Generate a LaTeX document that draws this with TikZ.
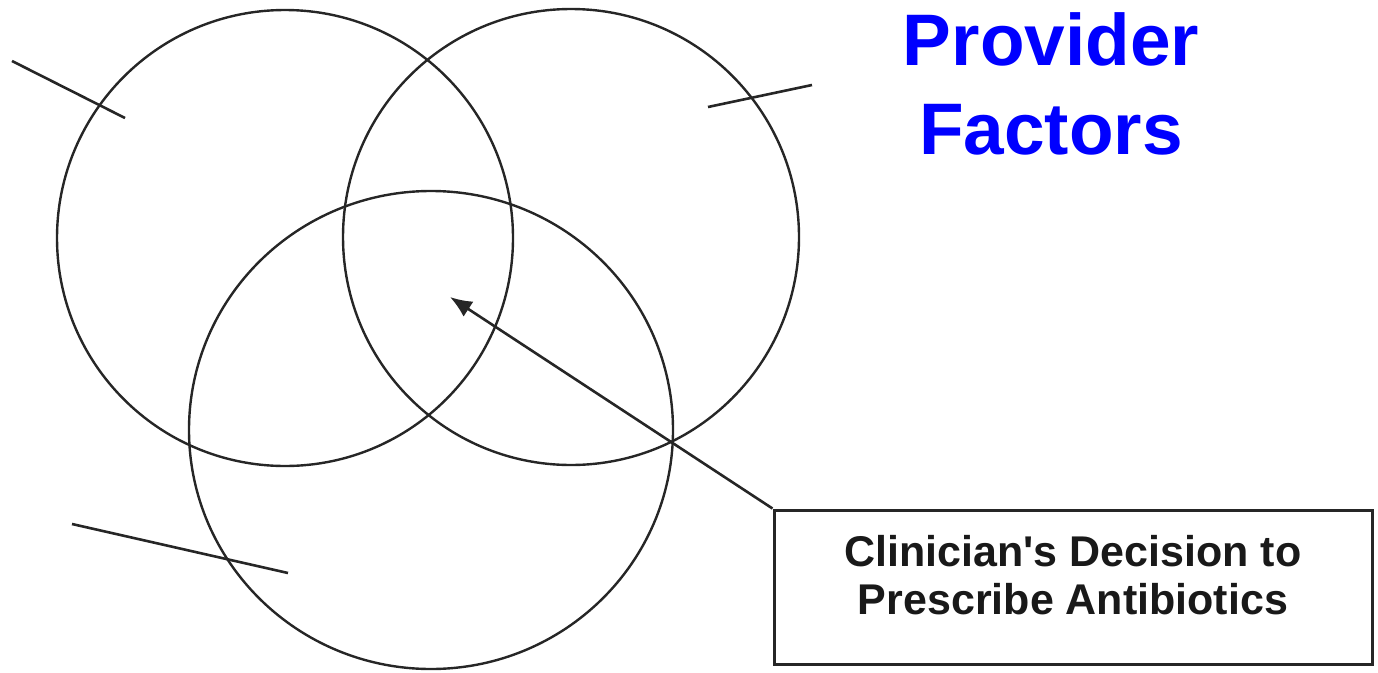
\documentclass[tikz,border=0pt]{standalone}
\usepackage{fontspec}
\setmainfont{Liberation Sans}
\usetikzlibrary{arrows.meta}
\definecolor{provblue}{RGB}{0,0,255}
\tikzset{
  venn/.style={draw=black!85, line width=2.4pt},
  lead/.style={draw=black!85, line width=2.6pt},
  boxtext/.style={font=\fontsize{43}{48}\selectfont\bfseries, align=center, text=black!90},
  bigtext/.style={font=\fontsize{73}{89.5}\selectfont\bfseries, align=center, text=provblue}
}
\begin{document}
\begin{tikzpicture}[x=1pt,y=-1pt]
\useasboundingbox (0,0) rectangle (1378,672);
\draw[venn] (285,238) circle (228);
\draw[venn] (571,237) circle (228);
\draw[venn] (431,430) ellipse [x radius=242, y radius=239];
% leader lines
\coordinate (l1a) at (12,61);  \coordinate (l1b) at (125,118);
\coordinate (l2a) at (708,107); \coordinate (l2b) at (812,85);
\coordinate (l3a) at (72,524); \coordinate (l3b) at (288,573);
\draw[lead] (l1a) -- (l1b);
\draw[lead] (l2a) -- (l2b);
\draw[lead] (l3a) -- (l3b);
% box
\node[draw=black!85, line width=3pt, minimum width=598pt, minimum height=154pt, inner sep=0pt] (box) at (1073,587) {};
\node[boxtext] (boxlabel) at (1073,575) {Clinician\textquotesingle s Decision to\\Prescribe Antibiotics};
\coordinate (tip) at (450,297);
\draw[lead, -{Latex[length=22pt,width=18pt]}] (box.north west) -- (tip);
% title
\node[bigtext] (title) at (1051,84) {Provider\\Factors};
\end{tikzpicture}
\end{document}
